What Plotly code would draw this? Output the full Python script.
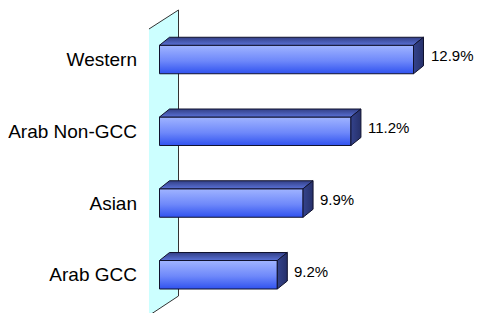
import plotly.graph_objects as go

# ---- data ----
categories = ["Western", "Arab Non-GCC", "Asian", "Arab GCC"]
values = [12.9, 11.2, 9.9, 9.2]
value_labels = ["12.9%", "11.2%", "9.9%", "9.2%"]

# ---- geometry / style constants ----
AXIS_MIN = 6.0
PX_PER_UNIT = 36.81      # horizontal pixels per value unit
ROW_PX = 71.75           # vertical pixels per category row
DEPTH_DX = 10 / PX_PER_UNIT
DEPTH_DY = 8 / ROW_PX
HALF_H = 14.25 / ROW_PX

X_RANGE = [5.470, 14.978]
Y_RANGE = [-0.6446, 3.7178]

WALL_FRONT_X = AXIS_MIN - 0.286
WALL_BACK_X = AXIS_MIN + 0.516
WALL_BACK_TOP, WALL_BACK_BOT = 3.690, -0.296
WALL_FRONT_TOP, WALL_FRONT_BOT = 3.425, -0.70

FONT = "Arial, Liberation Sans, sans-serif"
EDGE = "#10122e"

fig = go.Figure()

# side wall
fig.add_trace(go.Scatter(
    x=[WALL_FRONT_X, WALL_BACK_X, WALL_BACK_X, WALL_FRONT_X, WALL_FRONT_X],
    y=[WALL_FRONT_TOP, WALL_BACK_TOP, WALL_BACK_BOT, WALL_BACK_BOT - 0.272, WALL_FRONT_BOT],
    mode="lines", fill="toself", fillcolor="#ccffff",
    line=dict(color="#333333", width=1), hoverinfo="skip", showlegend=False))

n = len(categories)
rows = [n - 1 - i for i in range(n)]

for r, v in zip(rows, values):
    y0, y1 = r - HALF_H, r + HALF_H
    # front face
    fig.add_trace(go.Scatter(
        x=[AXIS_MIN, v, v, AXIS_MIN, AXIS_MIN],
        y=[y0, y0, y1, y1, y0],
        mode="lines", fill="toself",
        fillgradient=dict(type="vertical",
                          colorscale=[[0, "#3052ef"], [0.45, "#6e88fa"], [1, "#a0b4ff"]]),
        line=dict(color=EDGE, width=1), hoverinfo="skip", showlegend=False))
    # top face
    fig.add_trace(go.Scatter(
        x=[AXIS_MIN, v, v + DEPTH_DX, AXIS_MIN + DEPTH_DX, AXIS_MIN],
        y=[y1, y1, y1 + DEPTH_DY, y1 + DEPTH_DY, y1],
        mode="lines", fill="toself",
        fillgradient=dict(type="vertical",
                          colorscale=[[0, "#5a71d6"], [1, "#323f86"]]),
        line=dict(color=EDGE, width=1), hoverinfo="skip", showlegend=False))
    # right face
    fig.add_trace(go.Scatter(
        x=[v, v + DEPTH_DX, v + DEPTH_DX, v, v],
        y=[y0, y0 + DEPTH_DY, y1 + DEPTH_DY, y1, y0],
        mode="lines", fill="toself",
        fillgradient=dict(type="horizontal",
                          colorscale=[[0, "#34438c"], [1, "#26306a"]]),
        line=dict(color=EDGE, width=1), hoverinfo="skip", showlegend=False))

# value labels
for r, v, t in zip(rows, values, value_labels):
    fig.add_annotation(x=v + DEPTH_DX + 5 / PX_PER_UNIT, y=r + 0.05, text=t,
                       xanchor="left", yanchor="middle", showarrow=False,
                       font=dict(family=FONT, size=15, color="#000000"))

fig.update_layout(
    width=482, height=313,
    margin=dict(l=132, r=0, t=0, b=0),
    paper_bgcolor="white", plot_bgcolor="white",
    xaxis=dict(range=X_RANGE, visible=False, fixedrange=True),
    yaxis=dict(range=Y_RANGE, tickvals=rows, ticktext=categories,
               showgrid=False, zeroline=False, showline=False, ticks="",
               ticklabelstandoff=2,
               tickfont=dict(family=FONT, size=19, color="#000000"),
               fixedrange=True),
    showlegend=False,
)

fig.write_html("out.html")
